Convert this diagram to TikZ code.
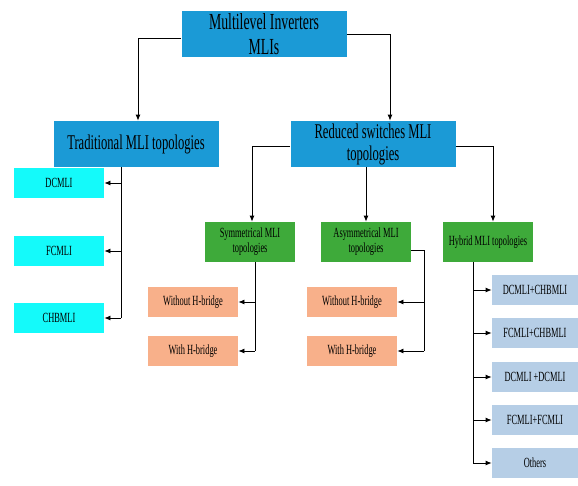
\documentclass[tikz,border=0pt]{standalone}
\usepackage{fontspec}
\setmainfont[FakeStretch=0.6]{Liberation Serif}
\usetikzlibrary{arrows.meta}

\definecolor{mliblue}{RGB}{27,154,214}
\definecolor{mlicyan}{RGB}{20,250,250}
\definecolor{mligreen}{RGB}{62,170,58}
\definecolor{mliorange}{RGB}{248,176,138}
\definecolor{mlilight}{RGB}{182,206,230}

\begin{document}
\begin{tikzpicture}[
            x=1pt, y=-1pt,
            box/.style={align=center, inner sep=1pt, text=black},
            mainbox/.style={box, fill=mliblue, minimum width=165pt, minimum height=46pt},
            tradbox/.style={box, fill=mlicyan, minimum width=90pt, minimum height=30pt,
                font=\fontsize{14}{16}\selectfont},
            groupbox/.style={box, fill=mligreen, minimum width=90pt, minimum height=40pt,
                font=\fontsize{14}{15}\selectfont},
            bridgebox/.style={box, fill=mliorange, minimum width=90pt, minimum height=30pt,
                font=\fontsize{14}{16}\selectfont},
            hybbox/.style={box, fill=mlilight, minimum width=86pt, minimum height=30pt,
                font=\fontsize{14}{16}\selectfont},
            arr/.style={-{Latex[length=6pt,width=5pt]}},
            line width=0.8pt
        ]
            \useasboundingbox (0,0) rectangle (578,485);

            % top levels
            \node[mainbox, font=\fontsize{23}{25}\selectfont] (top) at (264,34) {Multilevel Inverters\\MLIs};
            \node[mainbox, font=\fontsize{21}{22}\selectfont] (trad) at (136,144) {Traditional MLI topologies};
            \node[mainbox, font=\fontsize{21}{22}\selectfont] (reduced) at (373,144) {Reduced switches MLI\\topologies};

            \node[groupbox] (sym) at (250,242) {Symmetrical MLI\\topologies};
            \node[groupbox] (asym) at (366,242) {Asymmetrical MLI\\topologies};
            \node[groupbox] (hybrid) at (488,242) {Hybrid MLI topologies};

            % traditional
            \node[tradbox] (dc) at (59,183) {DCMLI};
            \node[tradbox] (fc) at (59,251) {FCMLI};
            \node[tradbox] (chb) at (59,318) {CHBMLI};

            % with and without H-bridge
            \node[bridgebox] (symwo) at (193,302) {Without H-bridge};
            \node[bridgebox] (symw) at (193,351) {With H-bridge};
            \node[bridgebox] (asymwo) at (352,302) {Without H-bridge};
            \node[bridgebox] (asymw) at (352,351) {With H-bridge};

            % hybrid
            \node[hybbox] (h1) at (535,290) {DCMLI+CHBMLI};
            \node[hybbox] (h2) at (535,333) {FCMLI+CHBMLI};
            \node[hybbox] (h3) at (535,377) {DCMLI +DCMLI};
            \node[hybbox] (h4) at (535,420) {FCMLI+FCMLI};
            \node[hybbox] (h5) at (535,463) {Others};

            \draw[arr] ([yshift=-4pt]top.west) -| ([xshift=2pt]trad.north);
            \draw[arr] ([yshift=0pt]top.east) -| ([xshift=17pt]reduced.north);
            \draw[arr] ([yshift=-2pt]reduced.west) -| ([xshift=2pt]sym.north);
            \draw[arr] (reduced.south -| asym.north) -- (asym.north);
            \draw[arr] ([yshift=-2pt]reduced.east) -| ([xshift=5pt]hybrid.north);

            \coordinate (tradbus) at (121,318);
            \draw (trad.south -| tradbus) -- (tradbus);
            \foreach \n in {dc,fc,chb}
                \draw[arr] (\n.east -| tradbus) -- (\n.east);

            \coordinate (symbus) at (255,351);
            \draw ([xshift=5pt]sym.south) -- (symbus);
            \foreach \n in {symwo,symw}
                \draw[arr] (\n.east -| symbus) -- (\n.east);

            \coordinate (asymbus) at (424,351);
            \draw ([yshift=-8pt]asym.east) -| (asymbus);
            \foreach \n in {asymwo,asymw}
                \draw[arr] (\n.east -| asymbus) -- (\n.east);

            \coordinate (hybus) at (473,463);
            \draw (hybrid.south -| hybus) -- (hybus);
            \foreach \n in {h1,h2,h3,h4,h5}
                \draw[arr] (\n.west -| hybus) -- (\n.west);
        \end{tikzpicture}
\end{document}
